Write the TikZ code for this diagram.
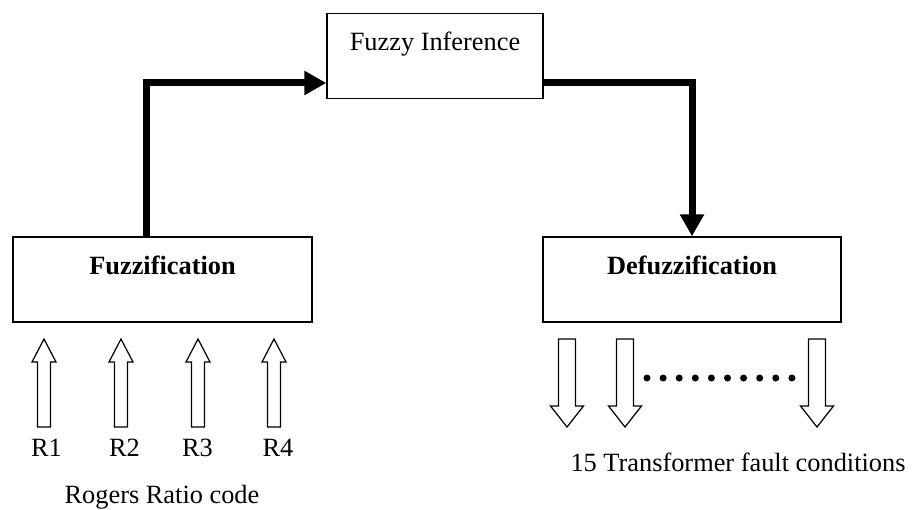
\documentclass[tikz,border=0pt]{standalone}
\usepackage{fontspec}
\setmainfont{Liberation Serif}
\usetikzlibrary{arrows.meta}

\begin{document}
\begin{tikzpicture}[x=0.02cm, y=-0.02cm,
        blk/.style={draw, line width=.8pt, inner sep=0pt, text height=.74cm, text depth=.96cm, font=\fontsize{15}{18}\selectfont},
        flow/.style={line width=.14cm, -{Triangle[length=.44cm, width=.46cm]}},
        txt/.style={anchor=base, font=\fontsize{15}{18}\selectfont},
        hollow/.style={line width=.7pt, fill=white}]
        \useasboundingbox (0, 0) rectangle (917, 510);
        \node[blk, minimum width=4.32cm] (inf) at (435, 56) {Fuzzy Inference};
        \node[blk, minimum width=5.98cm] (fuzz) at (162.5, 279.5) {\textbf{Fuzzification}};
        \node[blk, minimum width=5.96cm] (defuzz) at (692, 279.5) {\textbf{Defuzzification}};
        \draw[flow] ([xshift=-.33cm]fuzz.north) |- ([yshift=-.54cm]inf.west);
        \draw[flow] ([yshift=-.54cm]inf.east) -| (defuzz.north);
        % inputs
        \foreach \x in {44, 121, 198, 274}
        \draw[hollow] ({\x-6.5}, 427) -- ({\x-6.5}, 362) -- ({\x-12}, 362) -- (\x, 339) -- ({\x+12}, 362) -- ({\x+6.5}, 362) -- ({\x+6.5}, 427) -- cycle;
        \foreach \x/\r in {46.5/1, 124.5/2, 197.5/3, 278/4}
        \node[txt] (r\r) at (\x, 456) {R\r};
        \node[txt] (rogers) at (162, 503) {Rogers Ratio code};
        % outputs
        \foreach \x in {567, 625, 817}
        \draw[hollow] ({\x-8.5}, 339) -- ({\x+8.5}, 339) -- ({\x+8.5}, 406) -- ({\x+16.5}, 406) -- (\x, 427) -- ({\x-16.5}, 406) -- ({\x-8.5}, 406) -- cycle;
        \foreach \i in {0,...,9}
        \fill ({647+16.1*\i}, 378) circle (.07cm);
        \node[txt] (faults) at (738, 471) {15 Transformer fault conditions};
\end{tikzpicture}
\end{document}
